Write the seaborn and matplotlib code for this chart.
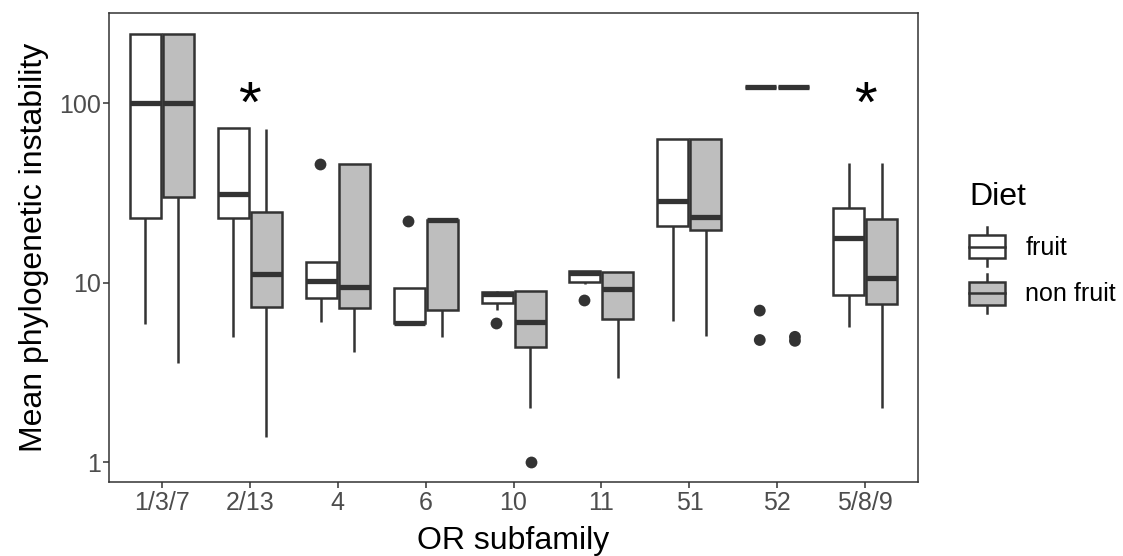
import numpy as np
import pandas as pd
import matplotlib
matplotlib.use("Agg")
import matplotlib.pyplot as plt
import seaborn as sns
from matplotlib.patches import Patch, Rectangle
from matplotlib.lines import Line2D
from matplotlib.legend_handler import HandlerBase

# Valeurs (résumé des boîtes, échelle log)
subfamilies = ['1/3/7', '2/13', '4', '6', '10', '11', '51', '52', '5/8/9']
diets = ['fruit', 'non fruit']

fruit_lo = [5.9, 5.0, 6.05, 6.0, 7.05, 9.8, 6.1, 123.7, 5.65]
fruit_q1 = [22.9, 22.9, 8.2, 6.0, 7.75, 10.1, 20.7, 123.7, 8.55]
fruit_med = [100, 31.1, 10.2, 6.0, 8.7, 11.4, 28.5, 123.7, 17.7]
fruit_q3 = [244, 72.6, 13.0, 9.4, 8.85, 11.7, 63.0, 123.7, 26.0]
fruit_hi = [244, 72.6, 13.0, 9.4, 9.0, 11.7, 63.0, 123.7, 46.3]

nonfruit_lo = [3.56, 1.39, 4.12, 5.0, 2.0, 2.94, 5.05, 123.7, 2.0]
nonfruit_q1 = [29.9, 7.36, 7.27, 7.05, 4.39, 6.31, 19.7, 123.7, 7.59]
nonfruit_med = [100, 11.2, 9.44, 22.3, 6.03, 9.24, 23.3, 123.7, 10.6]
nonfruit_q3 = [244, 24.8, 45.7, 22.3, 9.0, 11.5, 63.0, 123.7, 22.7]
nonfruit_hi = [244, 72.0, 45.7, 22.3, 9.0, 11.5, 63.0, 123.7, 46.3]

# Points extrêmes
out_family = ['4', '6', '10', '10', '11', '52', '52', '52', '52']
out_diet = ['fruit', 'fruit', 'fruit', 'non fruit', 'fruit', 'fruit', 'fruit', 'non fruit', 'non fruit']
out_value = [45.9, 22.1, 6.0, 1.0, 8.0, 7.0, 4.8, 5.0, 4.75]

# Sous-familles significatives
star_families = ['2/13', '5/8/9']

# Construction d'un tableau long : 5 valeurs par boîte -> quartiles exacts
rows = []
stats = {
    'fruit': (fruit_lo, fruit_q1, fruit_med, fruit_q3, fruit_hi),
    'non fruit': (nonfruit_lo, nonfruit_q1, nonfruit_med, nonfruit_q3, nonfruit_hi),
}
for diet in diets:
    for i, fam in enumerate(subfamilies):
        for arr in stats[diet]:
            rows.append({'OR subfamily': fam, 'Diet': diet, 'value': arr[i]})
df = pd.DataFrame(rows)
df_out = pd.DataFrame({'OR subfamily': out_family, 'Diet': out_diet, 'value': out_value})

line_col = '#333333'
palette = {'fruit': 'white', 'non fruit': '#BEBEBE'}

plt.rcParams['font.family'] = ['Liberation Sans', 'DejaVu Sans']

fig = plt.figure(figsize=(11.23, 5.56), dpi=100)
ax = fig.add_axes([0.0971, 0.1326, 0.7204, 0.8434])

sns.boxplot(data=df, x='OR subfamily', y='value', hue='Diet',
            order=subfamilies, hue_order=diets, palette=palette,
            log_scale=True, whis=(0, 100), width=0.75, gap=0.06,
            linewidth=1.8, linecolor=line_col, showcaps=False,
            medianprops=dict(linewidth=3.8, color=line_col, solid_capstyle='butt'),
            legend=False, ax=ax)

sns.stripplot(data=df_out, x='OR subfamily', y='value', hue='Diet',
              order=subfamilies, hue_order=diets,
              palette={'fruit': line_col, 'non fruit': line_col},
              dodge=True, jitter=False, size=8.5, linewidth=0,
              log_scale=True, legend=False, ax=ax)

for fam in star_families:
    ax.text(subfamilies.index(fam), 96, '*', ha='center', va='center',
            fontsize=42, color='black')

ax.set_ylim(0.774, 317)
ax.set_xlim(-0.6, len(subfamilies) - 0.4)
ax.set_yticks([1, 10, 100])
ax.set_yticklabels(['1', '10', '100'])
ax.yaxis.set_minor_locator(matplotlib.ticker.NullLocator())
ax.grid(False)
for s in ax.spines.values():
    s.set_color(line_col)
    s.set_linewidth(1.1)
ax.tick_params(axis='both', colors=line_col, labelcolor='#4D4D4D',
               labelsize=18, length=4, width=1.1, pad=2)
ax.set_xlabel('OR subfamily', fontsize=23, color='black', labelpad=8)
ax.set_ylabel('Mean phylogenetic instability', fontsize=23, color='black', labelpad=7)


# Clé de légende façon ggplot (boîte + médiane + moustaches)
class BoxKey(HandlerBase):
    def create_artists(self, legend, orig_handle, xdescent, ydescent,
                       width, height, fontsize, trans):
        x0, y0 = -xdescent, -ydescent
        fc = orig_handle.get_facecolor()
        box = Rectangle((x0, y0 + 0.2 * height), width, 0.6 * height,
                        facecolor=fc, edgecolor=line_col, linewidth=1.8, transform=trans)
        med = Line2D([x0, x0 + width], [y0 + 0.5 * height] * 2,
                     color=line_col, linewidth=1.8, transform=trans)
        w1 = Line2D([x0 + width / 2] * 2, [y0, y0 + 0.2 * height],
                    color=line_col, linewidth=1.8, transform=trans)
        w2 = Line2D([x0 + width / 2] * 2, [y0 + 0.8 * height, y0 + height],
                    color=line_col, linewidth=1.8, transform=trans)
        return [w1, w2, box, med]


handles = [Patch(facecolor=palette[d]) for d in diets]
leg = fig.legend(handles, diets, title='Diet', loc='center left',
                 bbox_to_anchor=(0.843, 0.555), frameon=False,
                 fontsize=18, title_fontsize=23, handlelength=1.45,
                 handleheight=2.0, handletextpad=0.8, labelspacing=0.33,
                 handler_map={Patch: BoxKey()})
leg._legend_box.align = 'left'
leg._legend_box.sep = 11

fig.savefig('out.png', dpi=100)
